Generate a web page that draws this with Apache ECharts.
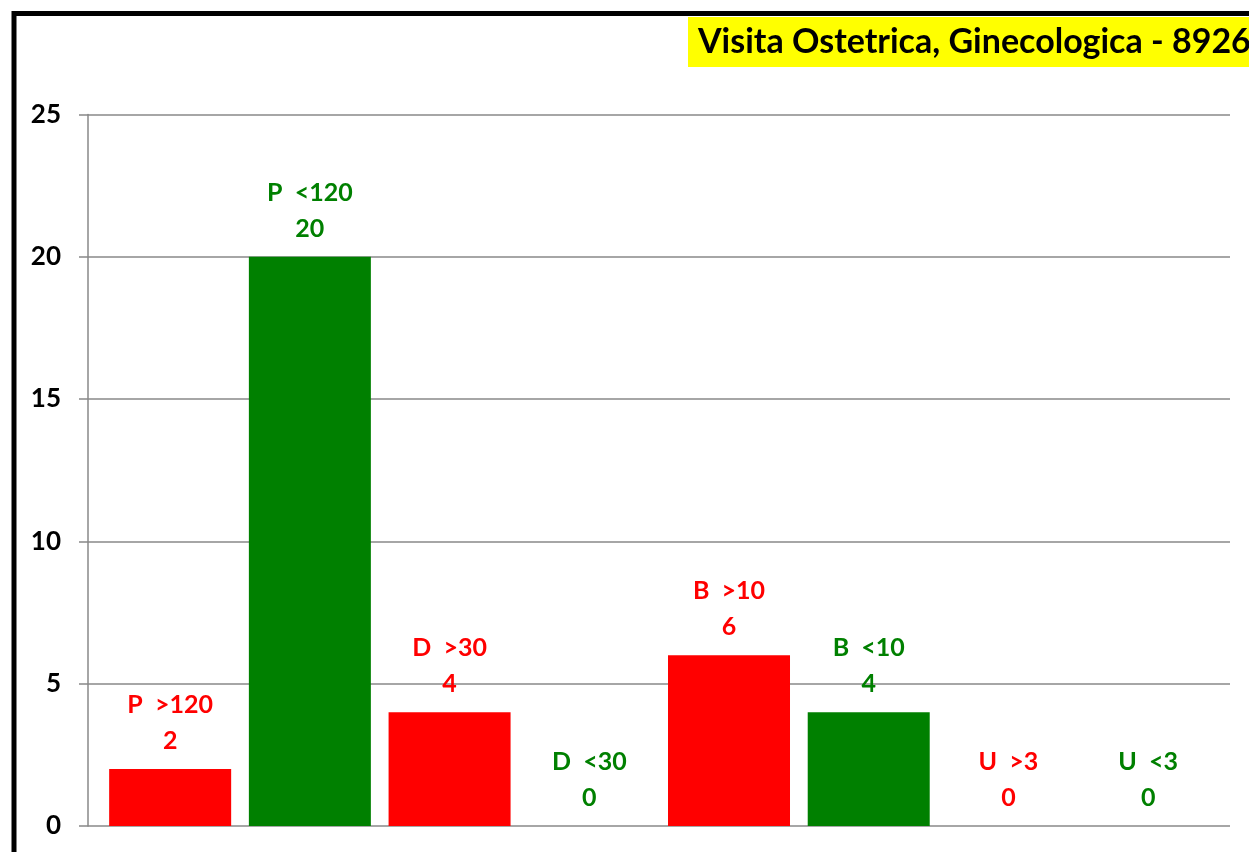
<!DOCTYPE html>
<html><head><meta charset="utf-8">
<script src="https://cdn.jsdelivr.net/npm/echarts@6/dist/echarts.min.js"></script>
<style>html,body{margin:0;padding:0;background:#fff}#c{width:1249px;height:852px}</style>
</head><body><div id="c"></div>
<script>
const titleText = 'Visita Ostetrica, Ginecologica - 8926';
const categories = ['P  >120', 'P  <120', 'D  >30', 'D  <30', 'B  >10', 'B  <10', 'U  >3', 'U  <3'];
const values = [2, 20, 4, 0, 6, 4, 0, 0];
const barColors = ['#FF0000', '#008000', '#FF0000', '#008000', '#FF0000', '#008000', '#FF0000', '#008000'];
const yTicks = [0, 5, 10, 15, 20, 25];

const FONT = 'Lato';
const chart = echarts.init(document.getElementById('c'), null, {renderer: 'canvas'});
chart.setOption({
  animation: false,
  backgroundColor: '#fff',
  textStyle: {fontFamily: FONT},
  title: {
    text: titleText, left: 688, top: 17,
    backgroundColor: '#FFFF00', padding: [7, 10, 7, 10],
    textStyle: {fontFamily: FONT, fontWeight: 'bold', fontSize: 34, lineHeight: 36, color: '#000'}
  },
  grid: [
    {left: 88, right: 19, top: 114.5, bottom: 26, containLabel: false},
    {left: 100.3, right: 31, top: 114.5, bottom: 26, containLabel: false}
  ],
  xAxis: [
    {type: 'category', gridIndex: 0, data: [''], show: false},
    {type: 'category', gridIndex: 1, data: categories,
     axisLine: {show: false}, axisTick: {show: false}, axisLabel: {show: false}}
  ],
  yAxis: [
    {type: 'value', gridIndex: 0, min: yTicks[0], max: yTicks[yTicks.length - 1], interval: 5,
     axisLine: {show: true, lineStyle: {color: '#888', width: 1.5}},
     axisTick: {show: true, length: 9, lineStyle: {color: '#888', width: 1.5}},
     splitLine: {show: true, lineStyle: {color: '#888', width: 1.5}},
     axisLabel: {margin: 27, color: '#000', fontWeight: 'bold', fontSize: 26, fontFamily: FONT}},
    {type: 'value', gridIndex: 1, min: yTicks[0], max: yTicks[yTicks.length - 1], interval: 5, show: false,
     splitLine: {show: false}}
  ],
  series: [{
    type: 'bar', xAxisIndex: 1, yAxisIndex: 1,
    data: values.map((v, i) => ({value: v, itemStyle: {color: barColors[i]},
      label: {color: barColors[i]}})),
    barWidth: 122,
    label: {
      show: true, position: 'top', distance: 10,
      formatter: p => p.name + '\n' + p.value,
      fontFamily: FONT, fontWeight: 'bold', fontSize: 25, lineHeight: 36, align: 'center'
    }
  }],
  graphic: [{
    type: 'rect', z: 100, silent: true,
    shape: {x: 14, y: 13.5, width: 1400, height: 1000},
    style: {fill: null, stroke: '#000', lineWidth: 5}
  }]
});
</script></body></html>
